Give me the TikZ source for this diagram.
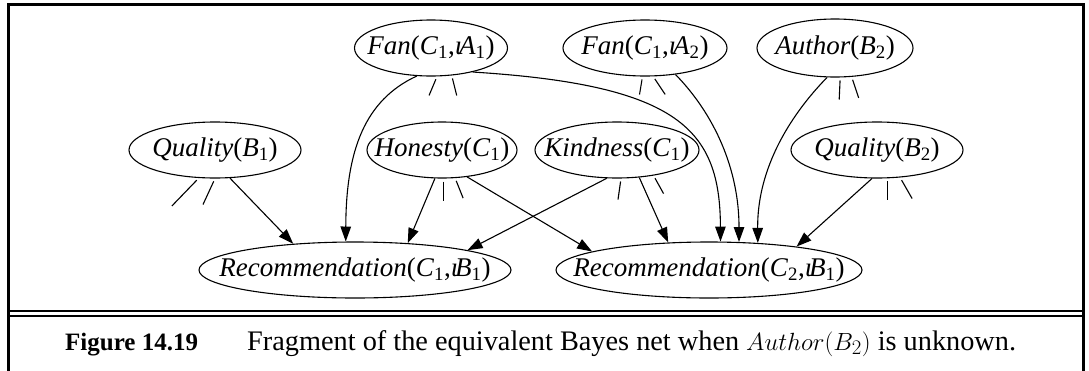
\documentclass[tikz,border=0pt]{standalone}
\usepackage{fontspec}
\setmainfont{Liberation Serif}
\usetikzlibrary{arrows.meta,shapes.geometric}
\newcommand\sbs[1]{\textsubscript{#1}}
\newcommand\vi{\textit{ι}\kern-0.12em}
\newcommand\elab[1]{\makebox[0pt]{#1}}
\begin{document}
\begin{tikzpicture}[x=1pt,y=-1pt,
  bn/.style={draw, ellipse, inner sep=0pt, line width=1.1pt, font=\fontsize{27}{31}\selectfont},
  arr/.style={line width=1.1pt, -{Triangle[length=15pt,width=10.5pt]}},
  stub/.style={line width=1.1pt, shorten <=3pt},
  frameline/.style={line width=3pt, line join=miter},
  rule/.style={line width=2pt}]
\useasboundingbox (0,0) rectangle (1089,370);
% frame
\draw[frameline] (8,372) -- (8,4.5) -- (1083,4.5) -- (1083,372);
\draw[rule] (8,311) -- (1083,311);
\draw[rule] (8,315.5) -- (1083,315.5);
% nodes
\node[bn, minimum width=153pt, minimum height=56pt] (f1) at (431,48) {\elab{\textit{Fan}(\textit{C}\sbs{1},\vi\textit{A}\sbs{1})}};
\node[bn, minimum width=164pt, minimum height=56pt] (f2) at (645,48) {\elab{\textit{Fan}(\textit{C}\sbs{1},\vi\textit{A}\sbs{2})}};
\node[bn, minimum width=156pt, minimum height=58pt] (au) at (835,48) {\elab{\textit{Author}(\textit{B}\sbs{2})}};
\node[bn, minimum width=172pt, minimum height=56pt] (q1) at (215,150) {\elab{\textit{Quality}(\textit{B}\sbs{1})}};
\node[bn, minimum width=150pt, minimum height=56pt] (h) at (442,150) {\elab{\textit{Honesty}(\textit{C}\sbs{1})}};
\node[bn, minimum width=164pt, minimum height=56pt] (k) at (617,150) {\elab{\textit{Kindness}(\textit{C}\sbs{1})}};
\node[bn, minimum width=172pt, minimum height=56pt] (q2) at (877,150) {\elab{\textit{Quality}(\textit{B}\sbs{2})}};
\node[bn, minimum width=312pt, minimum height=56pt] (r1) at (355,270) {\elab{\textit{Recommendation}(\textit{C}\sbs{1},\vi\textit{B}\sbs{1})}};
\node[bn, minimum width=306pt, minimum height=56pt] (r2) at (709,270) {\elab{\textit{Recommendation}(\textit{C}\sbs{2},\vi\textit{B}\sbs{1})}};
% stubs
\draw[stub] (q1.-120) -- +(-27,28);
\draw[stub] (q1.-90) -- +(-12,26);
\draw[stub] (h.-87) -- +(0,22);
\draw[stub] (h.-65) -- +(8,20);
\draw[stub] (k.-82) -- +(-3,21);
\draw[stub] (k.-35) -- +(10,18);
\draw[stub] (q2.-70) -- +(0,22);
\draw[stub] (q2.-50) -- +(12,21);
\draw[stub] (f1.-78) -- +(-8,19);
\draw[stub] (f1.-53) -- +(5,20);
\draw[stub] (f2.-95) -- +(-3,18);
\draw[stub] (f2.-74) -- +(12,18);
\draw[stub] (au.-80) -- +(-1,22);
\draw[stub] (au.-60) -- +(7,21);
% arrows
\draw[arr] (q1.-62) -- (r1.157);
\draw[arr] (h.-104) -- (r1.27);
\draw[arr] (h.-47) -- (r2.171);
\draw[arr] (k.-110) -- (r1.10);
\draw[arr] (k.-51) -- (r2.146);
\draw[arr] (q2.-100) -- (r2.15);
\draw[arr] (f1.-117) .. controls (365,100) and (346,150) .. (r1.108);
\draw[arr] (f1.-30) .. controls (680,85) and (720,130) .. (r2.68);
\draw[arr] (f2.-41) .. controls (715,115) and (739,170) .. (r2.43);
\draw[arr] (au.-105) .. controls (800,105) and (757,160) .. (r2.29);
% caption
\node[anchor=base west, inner sep=0pt, font=\fontsize{25}{30}\selectfont\bfseries] (fig) at (65,350) {Figure 14.19};
\node[anchor=base west, inner sep=0pt, font=\fontsize{28.3}{33}\selectfont] (cap) at (247,350) {Fragment of the equivalent Bayes net when $Author(B_2)$ is unknown.};
\end{tikzpicture}
\end{document}
